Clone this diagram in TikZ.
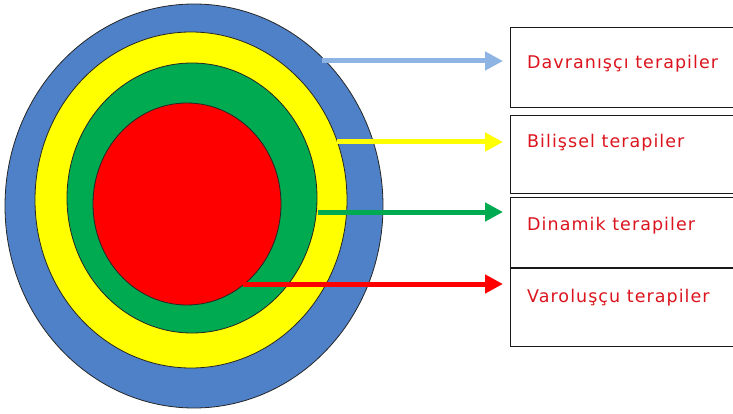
\documentclass[tikz,border=0pt]{standalone}
\usepackage{fontspec}
\newfontfamily\labelfont[LetterSpace=6]{DejaVu Sans}
\usetikzlibrary{arrows.meta}
\definecolor{ringblue}{RGB}{79,129,200}
\definecolor{ringyellow}{RGB}{255,255,0}
\definecolor{ringgreen}{RGB}{0,170,80}
\definecolor{ringred}{RGB}{255,0,0}
\definecolor{arrowblue}{RGB}{141,180,226}
\definecolor{txtred}{RGB}{220,20,30}
\tikzset{
  ring/.style={draw=black!85, line width=0.8pt},
  layerbox/.style={draw=black!90, line width=1.4pt, minimum width=223pt, anchor=north west, inner sep=0pt},
  layertext/.style={anchor=base west, text=txtred, font=\labelfont\fontsize{17.5}{21}\selectfont, inner sep=0pt},
  layerarrow/.style={line width=5pt, -{Triangle[length=18pt,width=18pt]}, shorten >=7pt},
}
\begin{document}
\begin{tikzpicture}[x=1pt,y=-1pt]
\useasboundingbox (0,0) rectangle (733,414);
\fill[white] (0,0) rectangle (733,414);
% rings
\draw[ring, fill=ringblue] (194,206) ellipse [x radius=189pt, y radius=202pt];
\draw[ring, fill=ringyellow] (191,200) ellipse [x radius=156pt, y radius=168pt];
\draw[ring, fill=ringgreen] (192,198) ellipse [x radius=125pt, y radius=135pt];
\draw[ring, fill=ringred] (187,204) ellipse [x radius=94pt, y radius=101pt];
% boxes
\node[layerbox, minimum height=80pt] (b1) at (510,27) {};
\node[layerbox, minimum height=78pt] (b2) at (510,115) {};
\node[layerbox, minimum height=70pt] (b3) at (510,197) {};
\node[layerbox, minimum height=78pt] (b4) at (510,268) {};
% texts
\node[layertext] (t1) at (527,69) {Davranışçı terapiler};
\node[layertext] (t2) at (527,148) {Bilişsel terapiler};
\node[layertext] (t3) at (527,230) {Dinamik terapiler};
\node[layertext] (t4) at (527,302) {Varoluşçu terapiler};
% arrow starts
\coordinate (s1) at (322,61);
\coordinate (s2) at (337,142);
\coordinate (s3) at (318,212);
\coordinate (s4) at (243,284);
\draw[layerarrow, draw=arrowblue, fill=arrowblue] (s1) -- (s1 -| b1.west);
\draw[layerarrow, draw=ringyellow, fill=ringyellow] (s2) -- (s2 -| b2.west);
\draw[layerarrow, draw=ringgreen, fill=ringgreen] (s3) -- (s3 -| b3.west);
\draw[layerarrow, draw=ringred, fill=ringred] (s4) -- (s4 -| b4.west);
\end{tikzpicture}
\end{document}
